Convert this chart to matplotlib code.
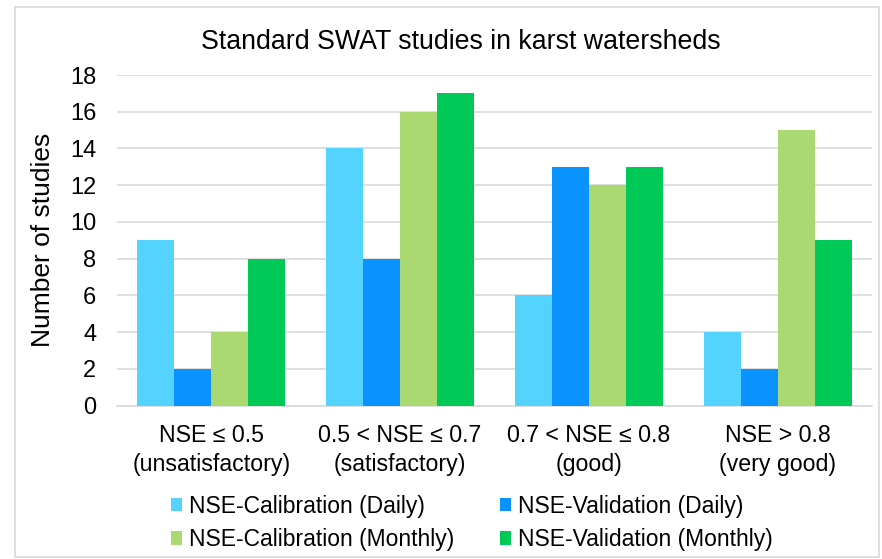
import numpy as np
import matplotlib
matplotlib.use("Agg")
import matplotlib.pyplot as plt
from matplotlib.patches import Rectangle

plt.rcParams["font.family"] = ["Liberation Sans", "DejaVu Sans"]

categories = [
    "NSE ≤ 0.5\n(unsatisfactory)",
    "0.5 < NSE ≤ 0.7\n(satisfactory)",
    "0.7 < NSE ≤ 0.8\n(good)",
    "NSE > 0.8\n(very good)",
]
series_names = [
    "NSE-Calibration (Daily)",
    "NSE-Validation (Daily)",
    "NSE-Calibration (Monthly)",
    "NSE-Validation (Monthly)",
]
cal_daily = [9, 14, 6, 4]
val_daily = [2, 8, 13, 2]
cal_monthly = [4, 16, 12, 15]
val_monthly = [8, 17, 13, 9]
colors = ["#55D3FF", "#0A92FF", "#A9D970", "#00C957"]

fig = plt.figure(figsize=(8.82, 5.59), dpi=100)
ax = fig.add_axes([117 / 882, 1 - 405.5 / 559, 755 / 882, 330.5 / 559])

x = np.arange(len(categories))
width = 0.196
values = [cal_daily, val_daily, cal_monthly, val_monthly]
bars = []
for i, (name, vals, color) in enumerate(zip(series_names, values, colors)):
    b = ax.bar(x + (i - 1.5) * width, vals, width, color=color, label=name, zorder=3)
    bars.append(b)

ax.set_xlim(-0.5, len(categories) - 0.5)
ax.set_ylim(0, 18)
ax.set_yticks(range(0, 19, 2))
ax.set_xticks(x)
ax.set_xticklabels(categories, fontsize=16.7, linespacing=1.37)
ax.tick_params(axis="y", labelsize=17, length=0, pad=15)
ax.tick_params(axis="x", length=0, pad=13)
ax.grid(True, axis="y", color="#D9D9D9", linewidth=1.2, zorder=0)
for side in ["top", "right", "left"]:
    ax.spines[side].set_visible(False)
ax.spines["bottom"].set_color("#D9D9D9")
ax.spines["bottom"].set_linewidth(1.2)

ax.set_ylabel("Number of studies", fontsize=19, labelpad=11)
fig.text(0.523, 1 - 42 / 559, "Standard SWAT studies in karst watersheds",
         ha="center", va="center", fontsize=19.3)

# legend fills row by row in the reference
order = [0, 2, 1, 3]
leg = fig.legend([bars[i] for i in order], [series_names[i] for i in order],
                 loc="center", bbox_to_anchor=(0.535, 1 - 523 / 559), ncol=2,
                 fontsize=16.5, frameon=False, handlelength=0.5, handleheight=0.5,
                 handletextpad=0.3, columnspacing=2.0, labelspacing=0.45)

fig.patches.append(Rectangle((15 / 882, 2 / 559), 864 / 882, 550 / 559,
                             transform=fig.transFigure, fill=False,
                             edgecolor="#D9D9D9", linewidth=1.2))

fig.savefig("out.png", dpi=100)
